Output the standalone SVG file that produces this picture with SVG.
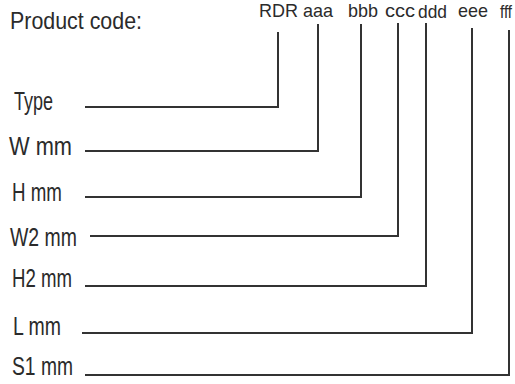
<svg xmlns="http://www.w3.org/2000/svg" width="515" height="384" viewBox="0 0 515 384">
<style>
.t{font-family:"Liberation Sans",Arial,sans-serif;fill:#2b2b2b;font-size:25px}
.p{font-family:"Liberation Sans",Arial,sans-serif;fill:#2b2b2b;font-size:24px}
.c{font-family:"Liberation Sans",Arial,sans-serif;fill:#2b2b2b;font-size:19px}
.w{fill:none;stroke:#333;stroke-width:2}
</style>
<rect width="515" height="384" fill="#fff"/>
<g id="title"><text class="p" x="10" y="29" textLength="132" lengthAdjust="spacingAndGlyphs">Product code:</text></g>
<g id="codes">
<text class="c" x="259" y="17" textLength="39" lengthAdjust="spacingAndGlyphs">RDR</text>
<text class="c" x="303" y="17" textLength="30" lengthAdjust="spacingAndGlyphs">aaa</text>
<text class="c" x="348" y="17" textLength="30" lengthAdjust="spacingAndGlyphs">bbb</text>
<text class="c" x="385" y="17" textLength="30" lengthAdjust="spacingAndGlyphs">ccc</text>
<text class="c" x="418" y="18" textLength="29" lengthAdjust="spacingAndGlyphs">ddd</text>
<text class="c" x="458" y="17" textLength="30" lengthAdjust="spacingAndGlyphs">eee</text>
<text class="c" x="500" y="18" textLength="12" lengthAdjust="spacingAndGlyphs">fff</text>
</g>
<g id="type"><text class="t" x="14" y="110" textLength="39" lengthAdjust="spacingAndGlyphs">Type</text></g>
<g id="wmm"><text class="t" x="9" y="155" textLength="63" lengthAdjust="spacingAndGlyphs">W mm</text></g>
<g id="hmm"><text class="t" x="12" y="201" textLength="50" lengthAdjust="spacingAndGlyphs">H mm</text></g>
<g id="w2mm"><text class="t" x="10" y="246" textLength="67" lengthAdjust="spacingAndGlyphs">W2 mm</text></g>
<g id="h2mm"><text class="t" x="12" y="287" textLength="60" lengthAdjust="spacingAndGlyphs">H2 mm</text></g>
<g id="lmm"><text class="t" x="13" y="335" textLength="48" lengthAdjust="spacingAndGlyphs">L mm</text></g>
<g id="s1mm"><text class="t" x="12" y="375" textLength="61" lengthAdjust="spacingAndGlyphs">S1 mm</text></g>
<g id="connectors">
<polyline class="w" points="85,107 278,107 278,32"/>
<polyline class="w" points="85,151 318,151 318,24"/>
<polyline class="w" points="85,197 361,197 361,24"/>
<polyline class="w" points="90,236 398,236 398,23"/>
<polyline class="w" points="85,286 426,286 426,23"/>
<polyline class="w" points="82,333 472,333 472,28"/>
<polyline class="w" points="85,375 509,375 509,30"/>
</g>
</svg>
